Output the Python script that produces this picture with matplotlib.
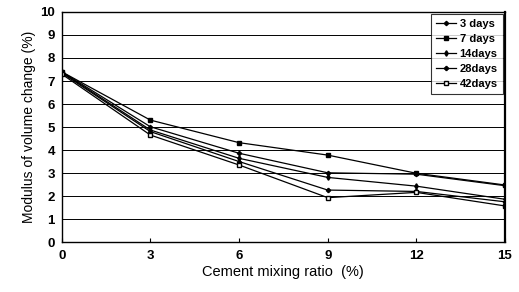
import numpy as np
import matplotlib
matplotlib.use("Agg")
import matplotlib.pyplot as plt

plt.rcParams['font.family'] = ['Liberation Sans', 'DejaVu Sans']

ratio = [0, 3, 6, 9, 12, 15]
days_3 = [7.40, 5.01, 3.86, 3.01, 2.95, 2.45]
days_7 = [7.40, 5.30, 4.32, 3.78, 2.99, 2.48]
days_14 = [7.38, 4.87, 3.64, 2.81, 2.43, 1.86]
days_28 = [7.35, 4.80, 3.50, 2.26, 2.20, 1.75]
days_42 = [7.30, 4.65, 3.35, 1.93, 2.16, 1.57]
names = ['3 days', '7 days', '14days', '28days', '42days']

fig = plt.figure(figsize=(5.19, 2.92), dpi=100)
ax = fig.add_axes([0.119, 0.171, 0.854, 0.788])

ax.plot(ratio, days_3, 'k-', marker='D', ms=2.2, lw=0.9, label=names[0])
ax.plot(ratio, days_7, 'k-', marker='s', ms=3.5, lw=0.9, label=names[1])
ax.plot(ratio, days_14, 'k-', marker='d', ms=2.8, lw=0.9, label=names[2])
ax.plot(ratio, days_28, 'k-', marker='P', ms=2.8, lw=0.9, label=names[3])
ax.plot(ratio, days_42, 'k-', marker='s', ms=3.5, mfc='white', lw=0.9, label=names[4])

ax.set_xlim(0, 15)
ax.set_ylim(0, 10)
ax.set_xticks(ratio)
ax.set_yticks(np.arange(0, 11, 1))
ax.grid(axis='y', color='black', lw=0.7)
ax.tick_params(axis='x', direction='in', length=3, pad=6)
ax.tick_params(axis='y', length=0, pad=5)
for lab in ax.get_xticklabels() + ax.get_yticklabels():
    lab.set_fontweight('bold')
    lab.set_fontsize(9.5)
for s in ax.spines.values():
    s.set_linewidth(1.0)
ax.spines['right'].set_linewidth(1.6)

ax.set_xlabel('Cement mixing ratio  (%)', fontsize=10.5, labelpad=2)
ax.set_ylabel('Modulus of volume change (%)', fontsize=10, labelpad=3)

leg = ax.legend(loc='upper right', prop={'weight': 'bold', 'size': 8},
                frameon=True, fancybox=False, edgecolor='black',
                handlelength=1.8, handletextpad=0.3, labelspacing=0.45,
                borderpad=0.45, borderaxespad=0.2)
leg.get_frame().set_linewidth(0.8)

fig.savefig('out.png', dpi=100)
